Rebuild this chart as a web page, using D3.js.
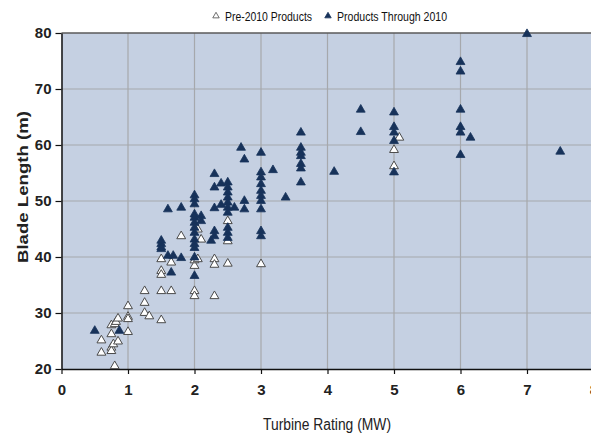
<!DOCTYPE html>
<html>
<head>
<meta charset="utf-8">
<script src="https://cdn.jsdelivr.net/npm/d3@7"></script>
<style>
  body { margin: 0; background: #fff; }
  text { font-family: "Liberation Sans", Arial, sans-serif; }
</style>
</head>
<body>
<div id="chart"></div>
<script>
// Pre-2010 products (hollow triangles): [rating MW, blade length m]
var pre2010 = [
  [0.6, 25.3], [0.6, 23.1], [0.75, 28.0], [0.75, 26.4], [0.75, 24.0], [0.75, 23.4],
  [0.8, 28.2], [0.78, 24.6], [0.8, 20.7], [0.82, 28.6], [0.85, 29.2], [0.85, 25.1],
  [1.0, 31.4], [1.0, 29.5], [1.0, 29.1], [1.0, 26.8], [1.25, 34.1], [1.25, 32.0],
  [1.25, 30.2], [1.32, 29.6], [1.5, 34.1], [1.5, 28.9], [1.5, 39.8], [1.5, 37.7],
  [1.5, 37.0], [1.65, 34.1], [1.65, 39.2], [1.8, 43.9], [2.0, 34.1], [2.0, 33.2],
  [2.0, 38.6], [2.0, 39.6], [2.05, 39.8], [2.05, 45.1], [2.1, 43.3], [2.3, 39.8],
  [2.3, 38.8], [2.3, 33.2], [2.5, 46.6], [2.5, 43.0], [2.5, 39.0], [3.0, 38.9],
  [5.0, 59.3], [5.0, 56.4], [5.08, 61.5]
];

// Products through 2010 (filled triangles)
var through2010 = [
  [0.5, 27.0], [0.87, 27.0],
  [1.5, 42.5], [1.5, 41.9], [1.5, 41.6], [1.5, 43.1],
  [1.6, 40.4], [1.68, 40.4], [1.8, 40.0], [1.65, 37.4], [1.6, 48.7], [1.8, 49.0],
  [2.0, 51.2], [2.0, 50.5], [2.0, 49.6], [2.0, 47.8], [2.0, 47.2], [2.0, 46.3],
  [2.0, 45.4], [2.0, 44.5], [2.0, 43.3], [2.0, 41.8], [2.0, 40.1], [2.0, 36.8], [2.0, 42.5],
  [2.1, 47.5], [2.1, 46.6], [2.25, 43.1], [2.3, 44.8], [2.3, 43.9], [2.3, 48.9],
  [2.4, 49.5], [2.3, 55.0], [2.4, 53.3], [2.3, 52.6],
  [2.5, 53.5], [2.5, 52.6], [2.5, 51.7], [2.5, 50.8], [2.5, 49.9], [2.5, 49.0],
  [2.5, 48.1], [2.5, 45.4], [2.5, 44.5], [2.5, 43.6],
  [2.6, 49.0], [2.7, 59.7], [2.75, 57.6], [2.75, 50.2], [2.75, 48.7],
  [3.0, 58.8], [3.0, 55.3], [3.0, 54.4], [3.0, 53.2], [3.0, 52.0], [3.0, 51.1],
  [3.0, 50.2], [3.0, 48.7], [3.0, 44.8], [3.0, 43.9],
  [3.18, 55.7], [3.37, 50.8],
  [3.6, 62.4], [3.6, 59.7], [3.6, 58.8], [3.6, 58.2], [3.6, 56.8], [3.6, 56.0], [3.6, 53.5],
  [4.1, 55.4], [4.5, 66.5], [4.5, 62.5],
  [5.0, 66.0], [5.0, 63.4], [5.0, 62.4], [5.0, 60.9], [5.0, 55.3],
  [6.0, 75.0], [6.0, 73.3], [6.0, 66.5], [6.0, 63.4], [6.0, 62.4], [6.0, 58.4],
  [6.15, 61.5], [7.0, 80.0], [7.5, 59.0]
];

var xTicks = [0, 1, 2, 3, 4, 5, 6, 7, 8];
var yTicks = [20, 30, 40, 50, 60, 70, 80];
var seriesNames = ["Pre-2010 Products", "Products Through 2010"];

var svgWidth = 591;
var svgHeight = 436;

var svg = d3.select("#chart").append("svg")
  .attr("width", svgWidth)
  .attr("height", svgHeight);

var x = d3.scaleLinear().domain([0, 8]).range([61.5, 593.5]);
var y = d3.scaleLinear().domain([20, 80]).range([369, 33]);

// plot background
svg.append("rect")
  .attr("x", x(0)).attr("y", y(80))
  .attr("width", x(8) - x(0)).attr("height", y(20) - y(80))
  .attr("fill", "#c5d0e2");

// gridlines
svg.append("g").selectAll("line")
  .data(xTicks.slice(1))
  .enter().append("line")
  .attr("x1", d => x(d)).attr("x2", d => x(d))
  .attr("y1", y(80)).attr("y2", y(20))
  .attr("stroke", "#a6a8ac").attr("stroke-width", 1.2);

svg.append("g").selectAll("line")
  .data(yTicks.slice(1, -1))
  .enter().append("line")
  .attr("x1", x(0)).attr("x2", x(8))
  .attr("y1", d => y(d)).attr("y2", d => y(d))
  .attr("stroke", "#a6a8ac").attr("stroke-width", 1.2);

// top border
svg.append("line")
  .attr("x1", x(0)).attr("x2", x(8))
  .attr("y1", y(80)).attr("y2", y(80))
  .attr("stroke", "#5a5a5a").attr("stroke-width", 1.5);

// axes
var xAxis = d3.axisBottom(x).tickValues(xTicks).tickSize(5).tickSizeOuter(0);
var yAxis = d3.axisLeft(y).tickValues(yTicks).tickSize(6).tickSizeOuter(0);

var gx = svg.append("g")
  .attr("transform", `translate(0, ${y(20)})`)
  .call(xAxis);
var gy = svg.append("g")
  .attr("transform", `translate(${x(0)}, 0)`)
  .call(yAxis);

[gx, gy].forEach(function(g) {
  g.select(".domain").attr("stroke", "#111").attr("stroke-width", 1.5);
  g.selectAll(".tick line").attr("stroke", "#111").attr("stroke-width", 1.2);
  g.selectAll(".tick text")
    .attr("fill", "#222")
    .style("font-size", "15px")
    .style("font-weight", "bold");
});
gx.selectAll(".tick text").attr("dy", "0.71em").attr("y", 15);
gy.selectAll(".tick text").attr("x", -10);

// markers
var tri = d3.symbol().type(d3.symbolTriangle).size(34);

svg.append("g").selectAll("path")
  .data(pre2010)
  .enter().append("path")
  .attr("d", tri)
  .attr("transform", d => `translate(${x(d[0])}, ${y(d[1]) + 1})`)
  .attr("fill", "#ffffff")
  .attr("stroke", "#4a4a4a")
  .attr("stroke-width", 1);

svg.append("g").selectAll("path")
  .data(through2010)
  .enter().append("path")
  .attr("d", tri)
  .attr("transform", d => `translate(${x(d[0])}, ${y(d[1]) + 1})`)
  .attr("fill", "#17325a")
  .attr("stroke", "#17325a")
  .attr("stroke-width", 0.8);

// legend (Calibri-like narrow text via textLength)
var legend = svg.append("g");
var legendItems = [
  { name: seriesNames[0], mx: 216, tx: 225, len: 87, fill: "#ffffff", stroke: "#4a4a4a" },
  { name: seriesNames[1], mx: 328, tx: 337, len: 110, fill: "#17325a", stroke: "#17325a" }
];
legendItems.forEach(function(it) {
  legend.append("path")
    .attr("d", d3.symbol().type(d3.symbolTriangle).size(18))
    .attr("transform", `translate(${it.mx}, 16)`)
    .attr("fill", it.fill).attr("stroke", it.stroke).attr("stroke-width", 0.8);
  legend.append("text")
    .attr("x", it.tx).attr("y", 20.5)
    .attr("textLength", it.len)
    .attr("lengthAdjust", "spacingAndGlyphs")
    .style("font-size", "12.5px")
    .attr("fill", "#111")
    .text(it.name);
});

// axis titles
svg.append("text")
  .attr("transform", "translate(28, 187) rotate(-90)")
  .attr("text-anchor", "middle")
  .attr("textLength", 152)
  .attr("lengthAdjust", "spacingAndGlyphs")
  .style("font-size", "15.5px")
  .style("font-weight", "bold")
  .attr("fill", "#222")
  .text("Blade Length (m)");

svg.append("text")
  .attr("x", 327).attr("y", 430)
  .attr("text-anchor", "middle")
  .attr("textLength", 128)
  .attr("lengthAdjust", "spacingAndGlyphs")
  .style("font-size", "16px")
  .attr("fill", "#222")
  .text("Turbine Rating (MW)");
</script>
</body>
</html>
